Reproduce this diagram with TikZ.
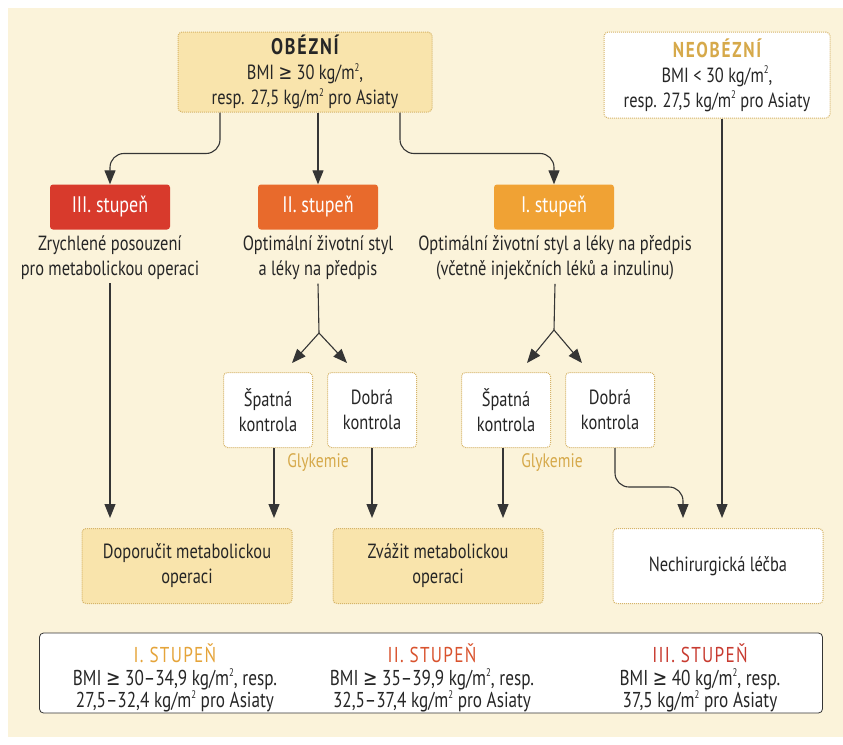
\documentclass[tikz,border=0pt]{standalone}
\usepackage{fontspec}
\setmainfont{PT Sans}[FakeStretch=0.8]
\newfontfamily\symb{DejaVu Sans}[FakeStretch=0.8]
\usepackage{tikz}
\usetikzlibrary{arrows.meta}

\definecolor{krem}{HTML}{FBF3DA}
\definecolor{zluta}{HTML}{F9E4AC}
\definecolor{okraj}{HTML}{D6B468}
\definecolor{cervena}{HTML}{D83A2C}
\definecolor{oranzova}{HTML}{E86A2C}
\definecolor{zlutooranzova}{HTML}{F0A234}
\definecolor{linka}{HTML}{353535}
\definecolor{zlato}{HTML}{D6A94A}
\definecolor{textc}{HTML}{262626}
\definecolor{leg1}{HTML}{E5A43A}
\definecolor{leg2}{HTML}{D9532E}
\definecolor{leg3}{HTML}{C83B30}

\newcommand{\vetsi}{{\symb ≥}}
\newcommand{\mm}{kg/m\raisebox{0.8ex}{\fontsize{11}{11}\selectfont 2}}

\tikzset{
  ramecek/.style={draw=okraj, densely dotted, line width=1pt, rounded corners=4pt, align=center, text=textc, inner sep=0pt},
  hlavni/.style={ramecek, fill=zluta},
  bily/.style={ramecek, fill=white},
  kontrola/.style={bily, minimum width=89pt, minimum height=75pt},
  cil/.style={minimum width=210pt, minimum height=75pt},
  stupen/.style={fill=#1, rounded corners=3pt, text=white, minimum width=120pt, minimum height=45pt, font=\fontsize{22.5}{24}\selectfont},
  popis/.style={align=center, text=textc},
  legpopis/.style={popis, font=\fontsize{21.5}{22.5}\selectfont},
  glyk/.style={text=zlato, font=\fontsize{19.5}{20}\selectfont},
  cara/.style={draw=linka, line width=1.1pt},
  sipka/.style={cara, -{Triangle[width=11pt,length=14pt]}},
}

\begin{document}
\begin{tikzpicture}[x=1pt, y=-1pt, font=\fontsize{20.5}{25}\selectfont]
  \useasboundingbox (0,0) rectangle (843,744);
  \fill[white] (0,0) rectangle (843,744);
  \fill[krem] (8,8) rectangle (843,737);

  % horni rada
  \node[hlavni, minimum width=254pt, minimum height=80pt] (obezni) at (305,72)
    {{\fontsize{22.5}{25}\selectfont\bfseries\addfontfeature{LetterSpace=8}OBÉZNÍ}\\BMI \vetsi\ 30 \mm,\\resp. 27,5 \mm\ pro Asiaty};
  \node[bily, minimum width=226pt, minimum height=86pt] (neobezni) at (717,75)
    {{\fontsize{21.5}{25}\selectfont\bfseries\color{zlato}\addfontfeature{LetterSpace=8}NEOBÉZNÍ}\\BMI < 30 \mm,\\resp. 27,5 \mm\ pro Asiaty};

  % stupne
  \node[stupen=cervena] (st3) at (110,207) {III. stupeň};
  \node[stupen=oranzova] (st2) at (318,207) {II. stupeň};
  \node[stupen=zlutooranzova] (st1) at (554,207) {I. stupeň};

  \node[popis] (t3) at (110,258) {Zrychlené posouzení\\pro metabolickou operaci};
  \node[popis] (t2) at (318,258) {Optimální životní styl\\a léky na předpis};
  \node[popis] (t1) at (555,258) {Optimální životní styl a léky na předpis\\(včetně injekčních léků a inzulinu)};

  \coordinate (r2) at (319,333);
  \coordinate (r1) at (554,330);

  % kontrola
  \node[kontrola] (k2s) at (268,410) {Špatná\\kontrola};
  \node[kontrola] (k2d) at (372,410) {Dobrá\\kontrola};
  \node[kontrola] (k1s) at (506,410) {Špatná\\kontrola};
  \node[kontrola] (k1d) at (610,410) {Dobrá\\kontrola};
  \node[glyk] (g2) at (318,463) {Glykemie};
  \node[glyk] (g1) at (552,463) {Glykemie};

  % vysledky
  \node[hlavni, cil] (dopor) at (187,566) {Doporučit metabolickou\\operaci};
  \node[hlavni, cil] (zvazit) at (438,566) {Zvážit metabolickou\\operaci};
  \node[bily, cil] (nechir) at (718,566) {Nechirurgická léčba};

  % legenda
  \node[draw=linka, line width=0.8pt, fill=white, rounded corners=4pt, minimum width=783pt, minimum height=80pt] (legenda) at (431,673) {};
  \node[legpopis] (l1) at (175,678)
    {{\color{leg1}\addfontfeature{LetterSpace=6}I. STUPEŇ}\\BMI \vetsi\ 30--34,9 \mm, resp.\\27,5--32,4 \mm\ pro Asiaty};
  \node[legpopis] (l2) at (432,678)
    {{\color{leg2}\addfontfeature{LetterSpace=6}II. STUPEŇ}\\BMI \vetsi\ 35--39,9 \mm, resp.\\32,5--37,4 \mm\ pro Asiaty};
  \node[legpopis] (l3) at (700,678)
    {{\color{leg3}\addfontfeature{LetterSpace=6}III. STUPEŇ}\\BMI \vetsi\ 40 \mm, resp.\\37,5 \mm\ pro Asiaty};

  % sipky
  \draw[sipka, rounded corners=14pt] ([xshift=-85pt]obezni.south) -- ++(0,-41pt) -| (st3.north);
  \draw[sipka] (obezni.south -| st2.north) -- (st2.north);
  \draw[sipka, rounded corners=14pt] ([xshift=95pt]obezni.south) -- ++(0,-41pt) -| (st1.north);

  \draw[sipka, shorten >=10pt] (t3.south) -- (t3.south |- dopor.north);

  \draw[cara] (t2.south) -- (r2);
  \draw[sipka] (r2) -- ([xshift=24pt,yshift=9pt]k2s.north);
  \draw[sipka] (r2) -- ([xshift=-25pt,yshift=9pt]k2d.north);
  \draw[cara] (t1.south) -- (r1);
  \draw[sipka] (r1) -- ([xshift=21pt,yshift=9pt]k1s.north);
  \draw[sipka] (r1) -- ([xshift=-28pt,yshift=9pt]k1d.north);

  \draw[sipka, shorten >=10pt] ([xshift=6pt]k2s.south) -- ([xshift=6pt]k2s.south |- dopor.north);
  \draw[sipka, shorten >=10pt] (k2d.south) -- (k2d.south |- zvazit.north);
  \draw[sipka, shorten >=10pt] ([xshift=-3pt]k1s.south) -- ([xshift=-3pt]k1s.south |- zvazit.north);
  \draw[sipka, shorten >=10pt, rounded corners=14pt] ([xshift=5pt]k1d.south) -- ++(0,-39pt) -| ([xshift=-35pt]nechir.north);
  \draw[sipka, shorten >=10pt] ([xshift=5pt]neobezni.south) -- ([xshift=5pt]neobezni.south |- nechir.north);
\end{tikzpicture}
\end{document}
